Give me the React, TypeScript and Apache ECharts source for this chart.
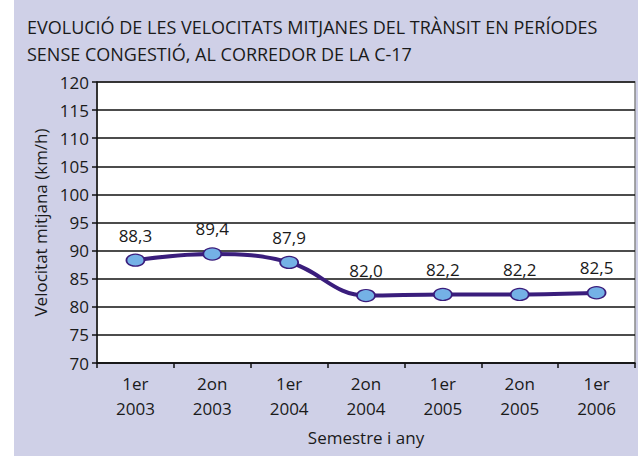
import React, { useEffect, useRef } from "react";
import * as echarts from "echarts";

const categories = ["1er\n2003", "2on\n2003", "1er\n2004", "2on\n2004", "1er\n2005", "2on\n2005", "1er\n2006"];
const speeds = [88.3, 89.4, 87.9, 82.0, 82.2, 82.2, 82.5];
const titleLines = [
  "EVOLUCIÓ DE LES VELOCITATS MITJANES DEL TRÀNSIT EN PERÍODES",
  "SENSE CONGESTIÓ, AL CORREDOR DE LA C-17",
];

const FONT = "Open Sans";

export default function App() {
  const ref = useRef<HTMLDivElement>(null);
  useEffect(() => {
    if (!ref.current) return;
    const chart = echarts.init(ref.current, null, { renderer: "svg" });
    chart.setOption({
      animation: false,
      backgroundColor: "#ffffff",
      graphic: [
        {
          type: "rect",
          z: -10,
          shape: { x: 14, y: 0, width: 624, height: 456 },
          style: { fill: "#cfd0e7" },
        },
      ],
      title: {
        text: titleLines.join("\n"),
        left: 22,
        top: 8,
        textStyle: {
          fontFamily: FONT,
          fontSize: 18,
          fontWeight: "normal",
          color: "#1a1a1a",
          lineHeight: 27,
        },
      },
      grid: { left: 97, top: 82, right: 3, bottom: 94, show: true, backgroundColor: "#ffffff", borderColor: "#8a8a8a", borderWidth: 1.5 },
      xAxis: {
        type: "category",
        data: categories,
        boundaryGap: true,
        axisLine: { lineStyle: { color: "#111", width: 1.5 } },
        axisTick: { show: true, interval: 0, length: 5, lineStyle: { color: "#111", width: 1.5 } },
        axisLabel: { interval: 0, fontFamily: FONT, fontSize: 17, color: "#1a1a1a", lineHeight: 25, margin: 8 },
        name: "Semestre i any",
        nameLocation: "middle",
        nameGap: 66,
        nameTextStyle: { fontFamily: FONT, fontSize: 17, color: "#1a1a1a" },
      },
      yAxis: {
        type: "value",
        min: 70,
        max: 120,
        interval: 5,
        axisLine: { show: true, lineStyle: { color: "#111", width: 1.5 } },
        axisTick: { show: true, length: 5, lineStyle: { color: "#111", width: 1.5 } },
        axisLabel: { fontFamily: FONT, fontSize: 17, color: "#1a1a1a", margin: 8 },
        splitLine: { show: true, lineStyle: { color: "#111", width: 1.5 } },
        name: "Velocitat mitjana (km/h)",
        nameLocation: "middle",
        nameGap: 48,
        nameRotate: 90,
        nameTextStyle: { fontFamily: FONT, fontSize: 17, color: "#1a1a1a" },
      },
      series: [
        {
          type: "line",
          data: speeds,
          smooth: 0.4,
          symbol: "circle",
          symbolSize: [18, 12],
          lineStyle: { color: "#3a1d7c", width: 4 },
          itemStyle: { color: "#74b1e6", borderColor: "#3a1d7c", borderWidth: 1.5 },
          label: {
            show: true,
            position: "top",
            distance: 10,
            fontFamily: FONT,
            fontSize: 17,
            color: "#1a1a1a",
            formatter: (p: any) => p.value.toFixed(1).replace(".", ","),
          },
        },
      ],
    });
    return () => chart.dispose();
  }, []);
  return <div ref={ref} style={{ position: "fixed", left: 0, top: 0, width: 638, height: 457 }} />;
}
